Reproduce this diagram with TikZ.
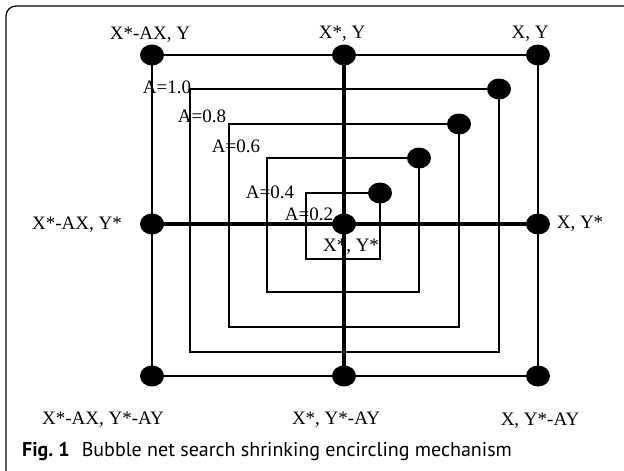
\documentclass[tikz,border=0pt]{standalone}
\usepackage{fontspec}
\setmainfont{Liberation Serif}
\newfontfamily\capfont{PT Sans}
\usepackage{tikz}
\usepgflibrary{shapes}
\usepackage{xcolor}

\begin{document}
\begin{tikzpicture}[x=1pt,y=-1pt]
	 \tikzstyle{dot}=[ellipse,minimum width=24pt,minimum height=21pt,inner sep=0pt,fill=black]
	 \tikzstyle{edge} = [draw,line width=2pt,black]
	 \tikzstyle{axis edge} = [draw,line width=3.5pt,black]
	 \tikzstyle{tag}=[anchor=base,inner sep=0pt,font=\fontsize{19}{21}\selectfont]

	\clip (0,0) rectangle (624,471);
	\draw[line width=1.2pt,rounded corners=10pt] (6,6) rectangle (660,490);

	\node[dot] (v0) at (152,55) {};
	 \node[dot] (v1) at (344,55) {};
	 \node[dot] (v2) at (538,55) {};
	 \node[dot] (v3) at (152,224) {};
	 \node[dot] (v4) at (344,224) {};
	 \node[dot] (v5) at (538,224) {};
	 \node[dot] (v6) at (152,376) {};
	 \node[dot] (v7) at (344,376) {};
	 \node[dot] (v8) at (538,376) {};

	 \node[dot] (a1) at (499,89) {};
	 \node[dot] (a2) at (459,124) {};
	 \node[dot] (a3) at (419,158) {};
	 \node[dot] (a4) at (380,193) {};
	 \coordinate (b1) at (190,352);
	 \coordinate (b2) at (229,327);
	 \coordinate (b3) at (267,292);
	 \coordinate (b4) at (306,259);

	\draw[edge] (v0.center) -- (v2.center) -- (v8.center) -- (v6.center) -- cycle;
	\draw[edge] (a1.center) rectangle (b1);
	\draw[edge] (a2.center) rectangle (b2);
	\draw[edge] (a3.center) rectangle (b3);
	\draw[edge] (a4.center) rectangle (b4);
	\draw[axis edge] (v3.center) -- (v5.center);
	\draw[axis edge] (v1.center) -- (v7.center);

	\node[tag] (l0) at (150,39) {X*-AX, Y};
	 \node[tag] (l1) at (342,38) {X*, Y};
	 \node[tag] (l2) at (530,38) {X, Y};
	 \node[tag] (l3) at (77,229) {X*-AX, Y*};
	 \node[tag] (l4) at (580,228) {X, Y*};
	 \node[tag] (l5) at (351,251) {X*, Y*};
	 \node[tag] (l6) at (103,424) {X*-AX, Y*-AY};
	 \node[tag] (l7) at (336,424) {X*, Y*-AY};
	 \node[tag] (l8) at (540,425) {X, Y*-AY};

	 \node[tag] (t1) at (167,93) {A=1.0};
	 \node[tag] (t2) at (202,122) {A=0.8};
	 \node[tag] (t3) at (236,152) {A=0.6};
	 \node[tag] (t4) at (270,198) {A=0.4};
	 \node[tag] (t5) at (309,220) {A=0.2};

	\node[anchor=base west,inner sep=0pt,font=\capfont\fontsize{20}{22}\selectfont] (cap) at (22,456) {\textbf{Fig.~1}\hspace{0.6em}Bubble net search shrinking encircling mechanism};
 \end{tikzpicture}
\end{document}
